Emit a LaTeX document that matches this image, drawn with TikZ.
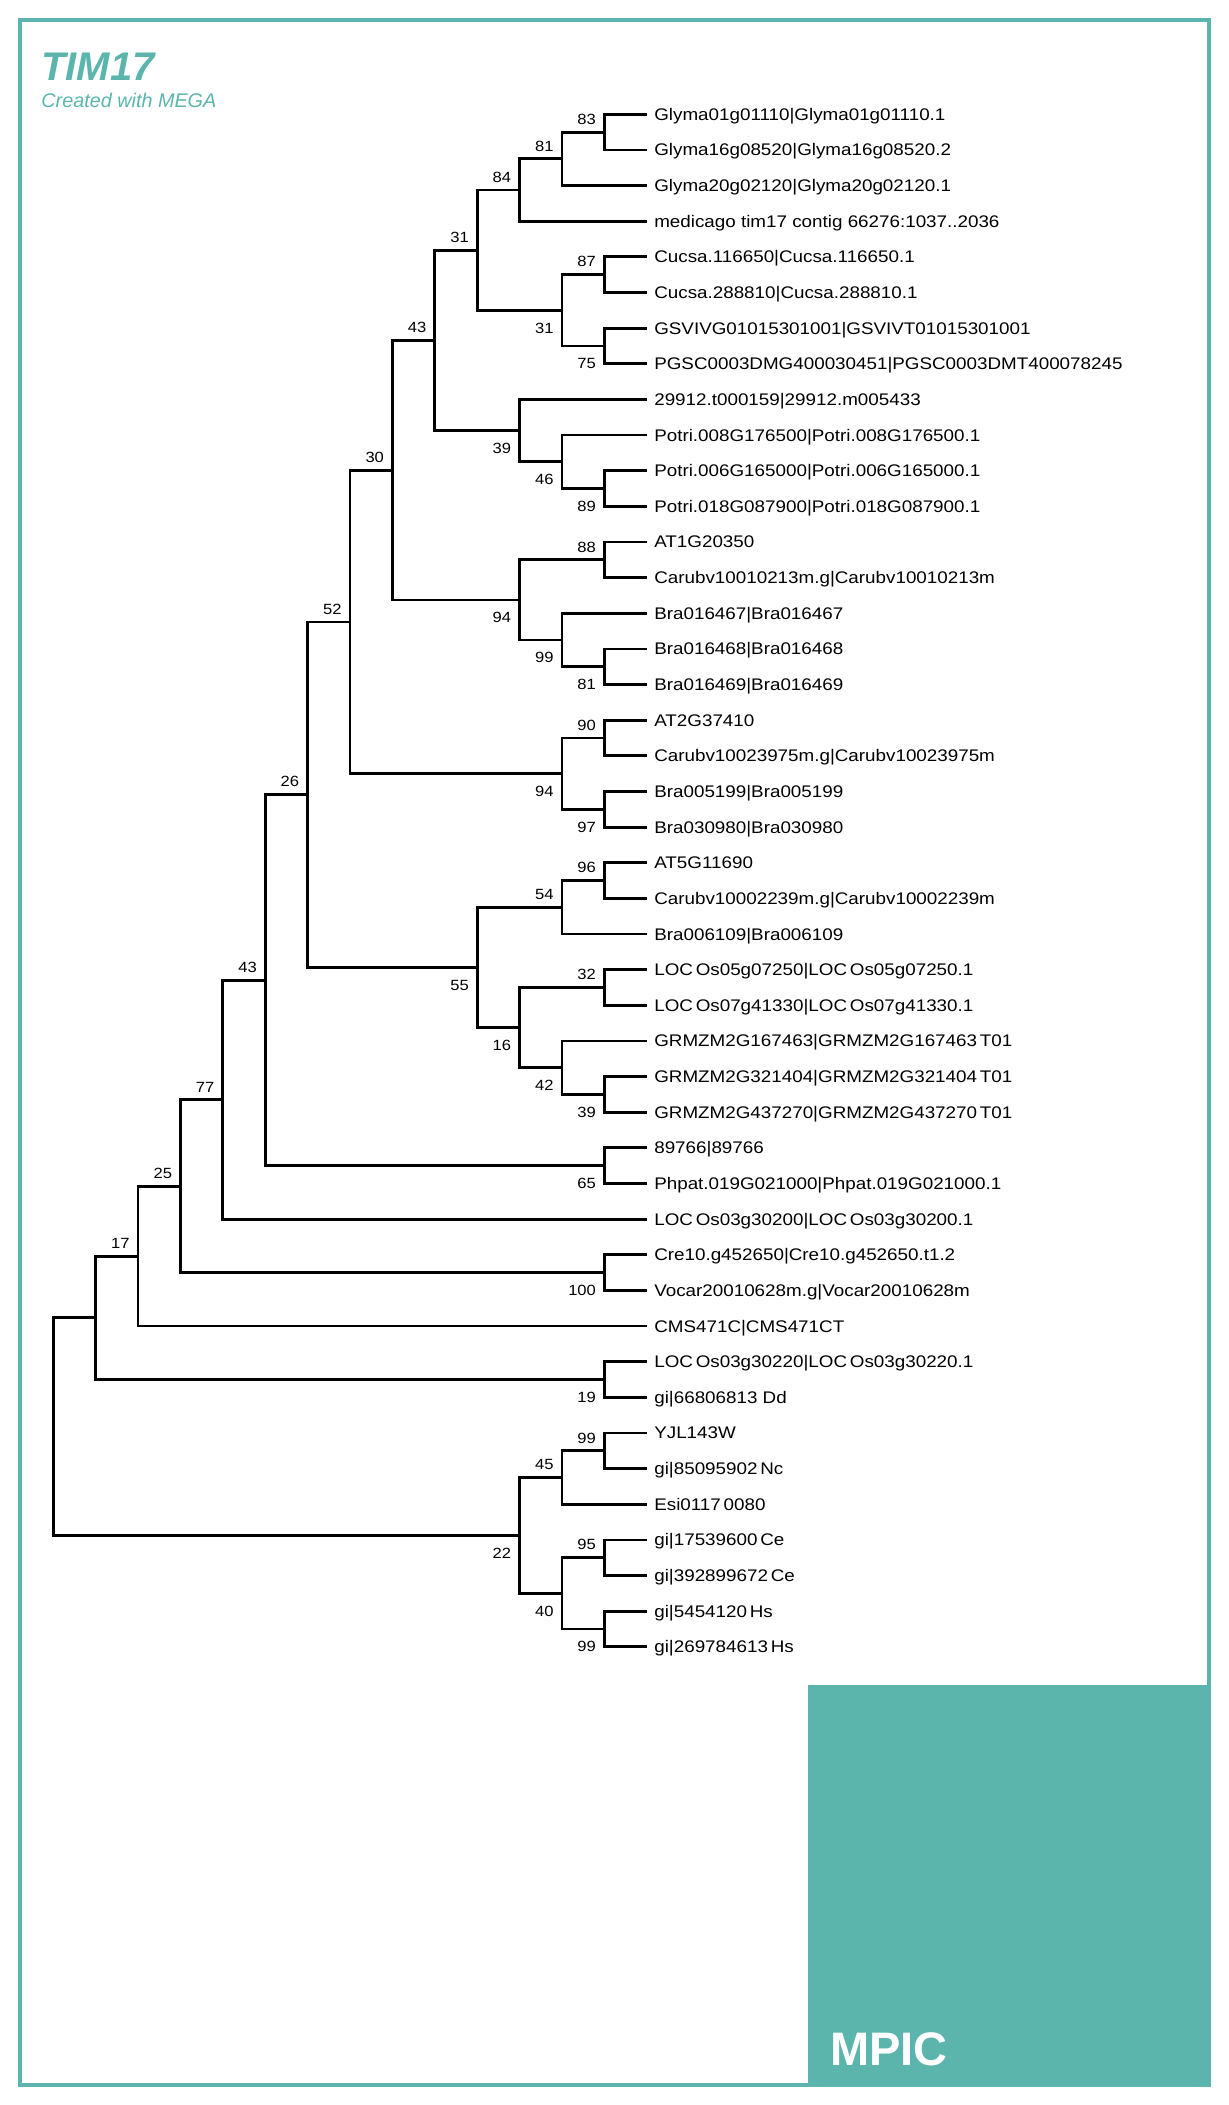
\documentclass[tikz,border=0pt]{standalone}
\usepackage{fontspec}
\setmainfont{Liberation Sans}
\newfontfamily\megafont[FakeStretch=1.12]{Liberation Sans}

\tikzset{
  branch/.style={line width=1.4pt, line join=miter},
  leaf/.style={anchor=west, inner xsep=3.6pt, inner ysep=0pt, text height=6pt, text depth=0pt,
    font={\megafont\fontsize{8.4}{10}\selectfont}},
  bsup/.style={anchor=south east, xshift=-4pt, yshift=3.6pt, inner sep=0pt,
    font={\megafont\fontsize{7.4}{9}\selectfont}},
  bsdown/.style={anchor=north east, xshift=-4pt, yshift=-6pt, inner sep=0pt,
    font={\megafont\fontsize{7.4}{9}\selectfont}},
}

\begin{document}
\begin{tikzpicture}[x=0.5pt, y=-0.5pt]
\definecolor{megateal}{HTML}{5BB5AD}
\useasboundingbox (0,0) rectangle (1229,2105);

% frame, logo block and heading
\draw[megateal, line width=1.75pt] (20,20) rectangle (1209,2085);
\fill[megateal] (808,1685) rectangle (1211,2087);
\node[anchor=base west, inner sep=0pt, text=white, font={\bfseries\fontsize{23.5}{26}\selectfont}] (mpic) at (830,2065) {MPIC};
\node[anchor=base west, inner sep=0pt, text=megateal, font={\bfseries\itshape\fontsize{20}{24}\selectfont}] (title) at (41,80) {TIM17};
\node[anchor=base west, inner sep=0pt, text=megateal, font={\itshape\fontsize{9.9}{11}\selectfont}] (credit) at (41,107) {Created with MEGA};

% taxa
\foreach \i/\name in {
  0/{Glyma01g01110|Glyma01g01110.1}, 1/{Glyma16g08520|Glyma16g08520.2},
  2/{Glyma20g02120|Glyma20g02120.1}, 3/{medicago tim17 contig 66276:1037..2036},
  4/{Cucsa.116650|Cucsa.116650.1}, 5/{Cucsa.288810|Cucsa.288810.1},
  6/{GSVIVG01015301001|GSVIVT01015301001}, 7/{PGSC0003DMG400030451|PGSC0003DMT400078245},
  8/{29912.t000159|29912.m005433}, 9/{Potri.008G176500|Potri.008G176500.1},
  10/{Potri.006G165000|Potri.006G165000.1}, 11/{Potri.018G087900|Potri.018G087900.1},
  12/{AT1G20350}, 13/{Carubv10010213m.g|Carubv10010213m},
  14/{Bra016467|Bra016467}, 15/{Bra016468|Bra016468}, 16/{Bra016469|Bra016469},
  17/{AT2G37410}, 18/{Carubv10023975m.g|Carubv10023975m},
  19/{Bra005199|Bra005199}, 20/{Bra030980|Bra030980},
  21/{AT5G11690}, 22/{Carubv10002239m.g|Carubv10002239m}, 23/{Bra006109|Bra006109},
  24/{LOC\,Os05g07250|LOC\,Os05g07250.1}, 25/{LOC\,Os07g41330|LOC\,Os07g41330.1},
  26/{GRMZM2G167463|GRMZM2G167463\,T01}, 27/{GRMZM2G321404|GRMZM2G321404\,T01},
  28/{GRMZM2G437270|GRMZM2G437270\,T01}, 29/{89766|89766},
  30/{Phpat.019G021000|Phpat.019G021000.1}, 31/{LOC\,Os03g30200|LOC\,Os03g30200.1},
  32/{Cre10.g452650|Cre10.g452650.t1.2}, 33/{Vocar20010628m.g|Vocar20010628m},
  34/{CMS471C|CMS471CT}, 35/{LOC\,Os03g30220|LOC\,Os03g30220.1},
  36/{gi|66806813 Dd}, 37/{YJL143W}, 38/{gi|85095902\,Nc}, 39/{Esi0117\,0080},
  40/{gi|17539600\,Ce}, 41/{gi|392899672\,Ce}, 42/{gi|5454120\,Hs}, 43/{gi|269784613\,Hs}}
  \node[leaf] (l\i) at (646.7, {114.3+35.64*\i}) {\name};

% internal nodes: name / depth / row
\foreach \n/\h/\k in {
  n83/1/0.5, n81/2/1.25, n84/3/2.125, n87/1/4.5, n75/1/6.5, n31b/2/5.5, n31a/4/3.8125,
  n89/1/10.5, n46/2/9.75, n39/3/8.875, n43a/5/6.34375,
  n88/1/12.5, n81b/1/15.5, n99a/2/14.75, n94a/3/13.625, n30/6/9.984375,
  n90/1/17.5, n97/1/19.5, n94b/2/18.5, n52/7/14.2421875,
  n96/1/21.5, n54/2/22.25, n32/1/24.5, n39b/1/27.5, n42/2/26.75, n16/3/25.625, n55/4/23.9375,
  n26/8/19.08984375, n65/1/29.5, n43b/9/24.294921875, n77/10/27.6474609375,
  n100/1/32.5, n25/11/30.07373046875, n17/12/32.036865234375,
  n19/1/35.5, nX/13/33.7684326171875,
  n99c/1/37.5, n45/2/38.25, n95/1/40.5, n99d/1/42.5, n40/2/41.5, n22/3/39.875,
  root/14/36.82171630859375}
  \coordinate (\n) at ({646.7-42.39*\h}, {114.3+35.64*\k});

% branches
\foreach \p/\c in {
  n83/l0.west, n83/l1.west, n81/n83, n81/l2.west, n84/n81, n84/l3.west,
  n87/l4.west, n87/l5.west, n75/l6.west, n75/l7.west, n31b/n87, n31b/n75,
  n31a/n84, n31a/n31b,
  n89/l10.west, n89/l11.west, n46/l9.west, n46/n89, n39/l8.west, n39/n46,
  n43a/n31a, n43a/n39,
  n88/l12.west, n88/l13.west, n81b/l15.west, n81b/l16.west, n99a/l14.west, n99a/n81b,
  n94a/n88, n94a/n99a, n30/n43a, n30/n94a,
  n90/l17.west, n90/l18.west, n97/l19.west, n97/l20.west, n94b/n90, n94b/n97,
  n52/n30, n52/n94b,
  n96/l21.west, n96/l22.west, n54/n96, n54/l23.west,
  n32/l24.west, n32/l25.west, n39b/l27.west, n39b/l28.west, n42/l26.west, n42/n39b,
  n16/n32, n16/n42, n55/n54, n55/n16, n26/n52, n26/n55,
  n65/l29.west, n65/l30.west, n43b/n26, n43b/n65, n77/n43b, n77/l31.west,
  n100/l32.west, n100/l33.west, n25/n77, n25/n100, n17/n25, n17/l34.west,
  n19/l35.west, n19/l36.west, nX/n17, nX/n19,
  n99c/l37.west, n99c/l38.west, n45/n99c, n45/l39.west,
  n95/l40.west, n95/l41.west, n99d/l42.west, n99d/l43.west, n40/n95, n40/n99d,
  n22/n45, n22/n40, root/nX, root/n22}
  \draw[branch] (\p) |- (\c);

% bootstrap values
\foreach \n/\v/\s in {
  n83/83/bsup, n81/81/bsup, n84/84/bsup, n87/87/bsup, n75/75/bsdown, n31b/31/bsdown,
  n31a/31/bsup, n89/89/bsdown, n46/46/bsdown, n39/39/bsdown, n43a/43/bsup,
  n88/88/bsup, n81b/81/bsdown, n99a/99/bsdown, n94a/94/bsdown, n30/30/bsup,
  n90/90/bsup, n97/97/bsdown, n94b/94/bsdown, n52/52/bsup,
  n96/96/bsup, n54/54/bsup, n32/32/bsup, n39b/39/bsdown, n42/42/bsdown,
  n16/16/bsdown, n55/55/bsdown, n26/26/bsup, n65/65/bsdown, n43b/43/bsup,
  n77/77/bsup, n100/100/bsdown, n25/25/bsup, n17/17/bsup, n19/19/bsdown,
  n99c/99/bsup, n45/45/bsup, n95/95/bsup, n99d/99/bsdown, n40/40/bsdown, n22/22/bsdown}
  \node[\s] (b\n) at (\n) {\v};
\end{tikzpicture}
\end{document}
